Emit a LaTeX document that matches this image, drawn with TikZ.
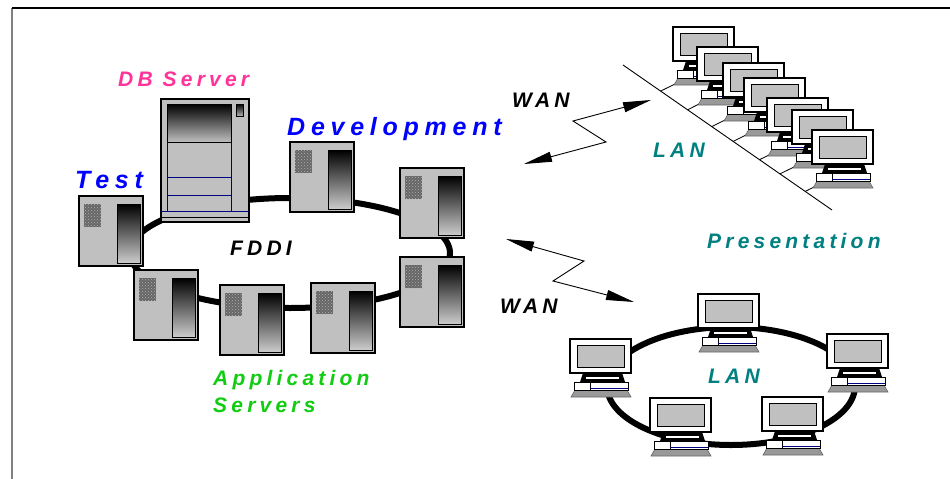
\documentclass[tikz,border=0pt]{standalone}
\usepackage{fontspec}
\usetikzlibrary{arrows.meta,calc,patterns}
\newfontfamily\lblfont[LetterSpace=20]{Liberation Sans}
\newfontfamily\biglblfont[LetterSpace=23]{Liberation Sans}

\definecolor{casegray}{HTML}{C0C0C0}
\definecolor{dbpink}{HTML}{FF3399}
\definecolor{devblue}{HTML}{0000FF}
\definecolor{appgreen}{HTML}{11CC11}
\definecolor{lanteal}{HTML}{008080}
\definecolor{trimblue}{HTML}{000080}

\tikzset{
  lbl/.style={anchor=base west, inner sep=0pt, font=\lblfont\bfseries\itshape\fontsize{21}{21}\selectfont},
  biglbl/.style={anchor=base west, inner sep=0pt, font=\biglblfont\bfseries\itshape\fontsize{25}{25}\selectfont},
  ringline/.style={line width=6pt},
  busline/.style={line width=0.9pt},
  wanlink/.style={line width=0.9pt, {Triangle[length=28pt,width=10pt]}-{Triangle[length=28pt,width=10pt]}},
  % small tower server, origin at its top-left corner
  tower/.pic={
    \draw[line width=1.2pt, fill=casegray] (0,0) rectangle (64,70);
    \fill[black!60] (5,8) rectangle (22,31);
    \fill[pattern=crosshatch dots, pattern color=black!30] (5,8) rectangle (22,31);
    \shade[top color=black, bottom color=black!20] (38,8) rectangle (61,67);
    \draw[line width=1pt] (38,8) rectangle (61,67);
  },
  % desktop workstation, origin at the monitor's top-left corner
  pc/.pic={
    \draw[fill=black!40, draw=black!60, line width=0.6pt] (5,51) -- (57,51) -- (61,58) -- (1,58) -- cycle;
    \draw[fill=white, line width=0.8pt] (4,43) rectangle (58,51);
    \draw[line width=0.6pt] (20,43) -- (20,51);
    \draw[trimblue, line width=0.8pt] (20,49.3) -- (58,49.3);
    \fill (13,34) -- (52,34) -- (55,43) -- (10,43) -- cycle;
    \fill[white] (16,38) rectangle (49,40);
    \draw[fill=white, line width=1.2pt] (0,0) rectangle (61,34);
    \draw[fill=casegray, line width=1pt] (7,6) rectangle (54,28);
  }
}

\begin{document}
\begin{tikzpicture}[x=1pt, y=-1pt]
\useasboundingbox (0,0) rectangle (950,479);

% frame
\coordinate (fA) at (12,479);
\coordinate (fB) at (12,8);
\coordinate (fC) at (950,8);
\draw[black!50, line width=2pt] (fA) -- (fB);
\draw[line width=1.3pt] (fB) -- (fC);

% ---------- FDDI ring with servers ----------
\coordinate (fddi) at (290,253);
\draw[ringline] (fddi) ellipse [x radius=160, y radius=55];

% DB server
\draw[line width=1.2pt, fill=casegray] (161,99) rectangle (249,222);
\shade[top color=black, bottom color=black!25] (167,104) rectangle (231,142);
\draw[line width=1pt] (167,104) rectangle (231,142);
\shade[top color=black, bottom color=black!30] (236,104) rectangle (243,116);
\draw[line width=0.6pt] (236,104) rectangle (243,116);
\draw[trimblue, line width=0.8pt] (167,142) -- (167,211) (231,142) -- (231,211)
  (167,177) -- (231,177) (167,195) -- (231,195) (161,211) -- (249,211);
\draw[line width=0.8pt] (161,217) -- (249,217);

\pic (test) at (79,196) {tower};
\pic (dev) at (290,142) {tower};
\pic (ru) at (400,168) {tower};
\pic (rl) at (400,257) {tower};
\pic (b3) at (311,283) {tower};
\pic (b2) at (220,285) {tower};
\pic (b1) at (134,270) {tower};

% ---------- Presentation LAN (bus) ----------
\coordinate (busA) at (623,65);
\coordinate (busB) at (832,210);
\draw[busline] (busA) -- (busB);

% stations stacked from back to front, each tapped onto the bus
\foreach \n/\px/\py/\t in {1/673/27/0.18, 2/697/47/0.309, 3/723/63/0.425, 4/744/78/0.527,
                          5/767/98/0.653, 6/792/110/0.751, 7/812/130/0.872}{
  \coordinate (jack\n) at (\px+6,\py+55);
  \coordinate (tap\n) at ($(busA)!\t!(busB)$);
  \draw[line width=0.8pt] (jack\n) -- (tap\n);
  \pic (s\n) at (\px,\py) {pc};
}

% ---------- Presentation LAN (ring) ----------
\coordinate (lanc) at (731,386);
\draw[ringline] (lanc) ellipse [x radius=124, y radius=59];
\pic (r1) at (698,294) {pc};
\pic (r2) at (570,339) {pc};
\pic (r3) at (827,334) {pc};
\pic (r4) at (650,398) {pc};
\pic (r5) at (762,397) {pc};

% ---------- WAN links ----------
\coordinate (wa1) at (524,164);
\coordinate (wa2) at (606,142);
\coordinate (wa3) at (573,121);
\coordinate (wa4) at (651,100);
\draw[wanlink] (wa1) -- (wa2) -- (wa3) -- (wa4);

\coordinate (wb1) at (506,239);
\coordinate (wb2) at (584,261);
\coordinate (wb3) at (553,281);
\coordinate (wb4) at (634,302);
\draw[wanlink] (wb1) -- (wb2) -- (wb3) -- (wb4);

% ---------- labels ----------
\node[lbl, text=dbpink] (dblbl) at (118,86) {DB Server};
\node[biglbl, text=devblue] (testlbl) at (75,188) {Test};
\node[biglbl, text=devblue] (devlbl) at (287,135) {Development};
\node[lbl] (fddilbl) at (230,255) {FDDI};
\node[lbl] (wan1lbl) at (512,107) {WAN};
\node[lbl] (wan2lbl) at (500,313) {WAN};
\node[lbl, text=lanteal] (lan1lbl) at (653,157) {LAN};
\node[lbl, text=lanteal] (preslbl) at (707,248) {Presentation};
\node[lbl, text=lanteal] (lan2lbl) at (708,383) {LAN};
\node[lbl, text=appgreen] (applbl) at (213,385) {Application};
\node[lbl, text=appgreen] (srvlbl) at (213,412) {Servers};
\end{tikzpicture}
\end{document}
